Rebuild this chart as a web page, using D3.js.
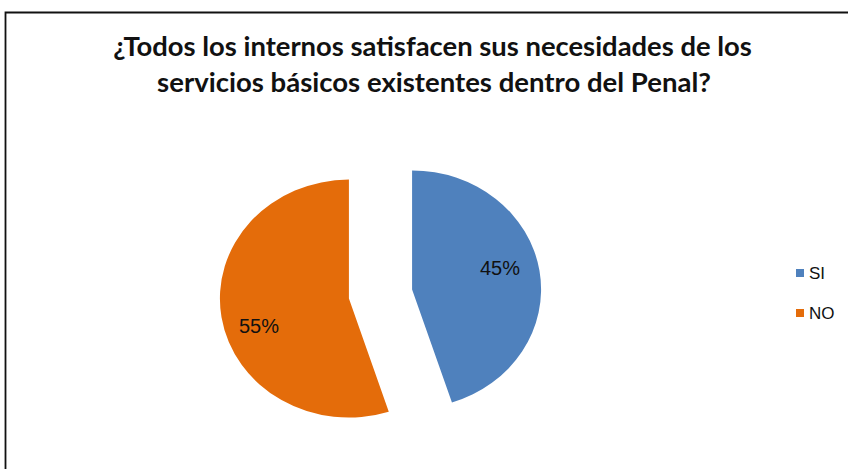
<!DOCTYPE html>
<html><head><meta charset="utf-8">
<script src="https://cdn.jsdelivr.net/npm/d3@7"></script>
<style>html,body{margin:0;padding:0;background:#fff;}svg{display:block;}</style>
</head><body>
<svg id="chart" width="848" height="469"></svg>
<script>
const titleLines = ["¿Todos los internos satisfacen sus necesidades de los", "servicios básicos existentes dentro del Penal?"];
const categories = ["SI", "NO"];
const values = [45, 55];
const colors = ["#4F81BD", "#E46C0A"];

const svg = d3.select("#chart");
const W = 848, H = 469;
svg.append("rect").attr("width", W).attr("height", H).attr("fill", "#fff");
// frame (right/bottom edges cropped off)
svg.append("path").attr("d", "M5.5,475 L5.5,12.5 L860,12.5")
  .attr("fill", "none").attr("stroke", "#111").attr("stroke-width", 1.8);

// title
const titleTargets = [[113, 752, 56], [157, 711, 92]];
titleLines.forEach((t, i) => {
  const [x0, x1, y] = titleTargets[i];
  const tx = svg.append("text").text(t)
    .attr("x", (x0 + x1) / 2).attr("y", y)
    .attr("text-anchor", "middle")
    .attr("font-family", "Lato, 'Open Sans', sans-serif")
    .attr("font-weight", "bold").attr("font-size", 20).attr("fill", "#111");
  const w = tx.node().getComputedTextLength();
  tx.attr("font-size", 20 * (x1 - x0) / w);
});

// pie (slightly wider than tall, as in the reference)
const cx = 380.5, cy = 294, r = 119, sx = 1.084, explode = 29.5;
const pie = d3.pie().sort(null).value(d => d)(values);
const arc = d3.arc().innerRadius(0).outerRadius(r);
const g = svg.append("g").attr("transform", `translate(${cx},${cy}) scale(${sx},1)`);
pie.forEach((p, i) => {
  const mid = (p.startAngle + p.endAngle) / 2;
  const dx = Math.sin(mid) * explode, dy = -Math.cos(mid) * explode;
  g.append("path").attr("d", arc(p)).attr("fill", colors[i])
    .attr("transform", `translate(${dx},${dy})`);
});

// data labels
const labelPos = [[500, 268], [259, 326]];
pie.forEach((p, i) => {
  svg.append("text").text(values[i] + "%")
    .attr("x", labelPos[i][0]).attr("y", labelPos[i][1])
    .attr("text-anchor", "middle").attr("dominant-baseline", "central")
    .attr("font-family", "'Liberation Sans', Arial, sans-serif")
    .attr("font-size", 20).attr("fill", "#111");
});

// legend
const legY = [273, 313];
categories.forEach((c, i) => {
  svg.append("rect").attr("x", 796).attr("y", legY[i] - 4).attr("width", 8).attr("height", 8).attr("fill", colors[i]);
  svg.append("text").text(c).attr("x", 809).attr("y", legY[i])
    .attr("dominant-baseline", "central")
    .attr("font-family", "'Liberation Sans', Arial, sans-serif")
    .attr("font-size", 17).attr("fill", "#111");
});
</script>
</body></html>
